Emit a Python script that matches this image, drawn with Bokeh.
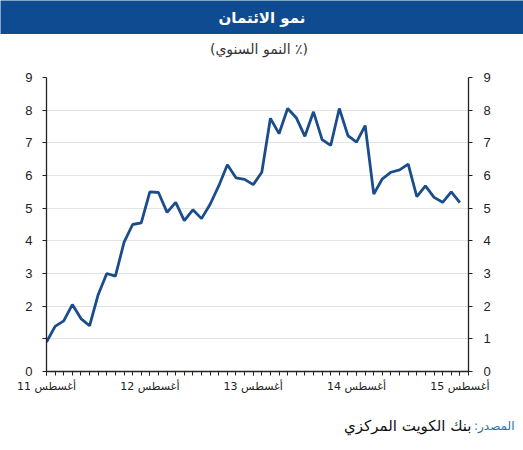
from bokeh.plotting import figure
from bokeh.layouts import column
from bokeh.models import Range1d, LinearAxis, FixedTicker
from bokeh.core.properties import value
from bokeh.embed import file_html
from bokeh.resources import INLINE

# ---- data (monthly, Aug 2011 .. Aug 2015) ----
credit_growth = [0.90, 1.38, 1.55, 2.05, 1.62, 1.40, 2.35, 3.00, 2.92, 3.95,
                 4.50, 4.55, 5.50, 5.48, 4.87, 5.18, 4.62, 4.95, 4.68, 5.12,
                 5.68, 6.33, 5.93, 5.88, 5.72, 6.10, 7.75, 7.28, 8.05, 7.77,
                 7.20, 7.95, 7.10, 6.92, 8.05, 7.22, 7.02, 7.53, 5.43, 5.90,
                 6.10, 6.17, 6.35, 5.35, 5.68, 5.33, 5.18, 5.50, 5.17]
month_index = list(range(len(credit_growth)))
x_tick_positions = [0, 12, 24, 36, 48]
x_tick_labels = ["أغسطس 11", "أغسطس 12", "أغسطس 13", "أغسطس 14", "أغسطس 15"]
y_ticks = [0, 1, 2, 3, 4, 5, 6, 7, 8, 9]

title_text = "نمو الائتمان"
subtitle_text = "(النمو السنوي ٪)"
source_label = "المصدر:"
source_text = "بنك الكويت المركزي"

BLUE_BAR = "#0E4B90"
LINE_COLOR = "#1B4C8C"
AR_FONT = "DejaVu Sans"
NUM_FONT = "Liberation Sans"
W = 523
BL, BR = 46, 55  # frame borders of the chart (left / right)
RLM = "\u200f"


def blank(height, bg="white"):
    f = figure(width=W, height=height, x_range=Range1d(0, W), y_range=Range1d(0, height),
               toolbar_location=None, output_backend="svg", min_border=0,
               outline_line_color=None, background_fill_color=bg, border_fill_color=bg)
    f.axis.visible = False
    f.grid.visible = False
    return f


# header bar
header = blank(34, BLUE_BAR)
header.text(x=[W / 2], y=[17], text=[title_text], text_color="white",
            text_font=value(AR_FONT), text_font_size="15px", text_font_style="bold",
            text_align="center", text_baseline="middle")

# subtitle
sub = blank(26)
sub.text(x=[W / 2 - 3], y=[12], text=[subtitle_text], text_color="#333333",
         text_font=value(AR_FONT), text_font_size="14px",
         text_align="center", text_baseline="middle")

# main chart
p = figure(width=W, height=340, x_range=Range1d(0, 49), y_range=Range1d(0, 9),
           toolbar_location=None, output_backend="svg",
           min_border_left=BL, min_border_right=BR, min_border_top=17, min_border_bottom=29,
           outline_line_color=None)
p.line(month_index, credit_growth, line_color=LINE_COLOR, line_width=2.8)

p.xgrid.visible = False
p.ygrid.ticker = FixedTicker(ticks=y_ticks)
p.ygrid.grid_line_color = "#E3E3E3"
p.ygrid.grid_line_width = 1

xa = p.xaxis[0]
xa.ticker = FixedTicker(ticks=x_tick_positions, minor_ticks=month_index + [49])
xa.major_label_overrides = {t: l for t, l in zip(x_tick_positions, x_tick_labels)}
xa.major_tick_out = 4
xa.major_tick_in = 0
xa.minor_tick_out = 4
xa.minor_tick_in = 0
xa.major_label_standoff = 4

ya = p.yaxis[0]
ya.ticker = FixedTicker(ticks=y_ticks)
ya.major_label_overrides = {1: ""}
ya.major_label_standoff = 10

yr = LinearAxis(ticker=FixedTicker(ticks=y_ticks))
yr.major_label_standoff = 11
p.add_layout(yr, "right")

for ax in [xa, ya, yr]:
    ax.axis_line_color = "#222222"
    ax.axis_line_width = 1.3
    ax.major_tick_line_color = "#222222"
    ax.minor_tick_line_color = "#222222"
    ax.major_label_text_font = NUM_FONT
    ax.major_label_text_font_size = "13px"
    ax.major_label_text_color = "#222222"
for ax in [ya, yr]:
    ax.minor_tick_out = 0
    ax.minor_tick_in = 0
    ax.major_tick_out = 4
    ax.major_tick_in = 0
xa.major_label_text_font = AR_FONT
xa.major_label_text_font_size = "11px"

# source
src = blank(50)
src.text(x=[514], y=[25], text=[source_label + RLM], text_color="#2E6DB4",
         text_font=value(AR_FONT), text_font_size="12px",
         text_align="right", text_baseline="middle")
src.text(x=[471], y=[25], text=[source_text], text_color="#111111",
         text_font=value(AR_FONT), text_font_size="15px",
         text_align="right", text_baseline="middle")

layout = column(column(header), column(sub), p, column(src), spacing=0)
open("out.html", "w").write(file_html(layout, INLINE))
